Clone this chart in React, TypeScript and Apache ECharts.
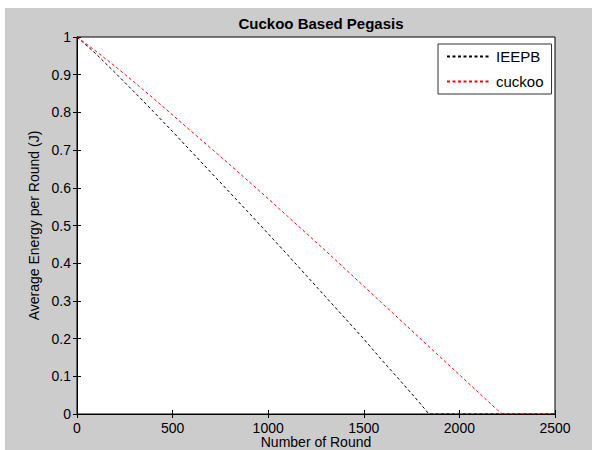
import React, { useEffect, useRef } from "react";
import * as echarts from "echarts";

const rounds = [0, 100, 200, 300, 400, 500, 600, 700, 800, 900, 1000, 1100, 1200, 1300, 1400, 1500, 1600, 1700, 1800, 1840, 2500];
const ieepb = [1.0, 0.955, 0.905, 0.854, 0.802, 0.749, 0.695, 0.641, 0.587, 0.533, 0.478, 0.423, 0.367, 0.311, 0.255, 0.199, 0.14, 0.083, 0.025, 0.0, 0.0];

const cuckooRounds = [0, 100, 200, 300, 400, 500, 600, 700, 800, 900, 1000, 1100, 1200, 1300, 1400, 1500, 1600, 1700, 1800, 1900, 2000, 2100, 2200, 2225, 2500];
const cuckoo = [1.0, 0.962, 0.922, 0.88, 0.837, 0.793, 0.749, 0.705, 0.661, 0.616, 0.571, 0.525, 0.479, 0.433, 0.386, 0.339, 0.292, 0.245, 0.198, 0.151, 0.104, 0.057, 0.01, 0.0, 0.0];

const seriesNames = ["IEEPB", "cuckoo"];
const titleText = "Cuckoo Based Pegasis";
const xName = "Number of Round";
const yName = "Average Energy per Round (J)";

export default function App() {
  const ref = useRef<HTMLDivElement>(null);
  useEffect(() => {
    if (!ref.current) return;
    const chart = echarts.init(ref.current, undefined, { renderer: "svg" });
    const font = "Liberation Sans, Arial, sans-serif";
    const tick = { inside: true, length: 4, lineStyle: { color: "#000", width: 1 } };
    chart.setOption({
      animation: false,
      backgroundColor: "#ffffff",
      textStyle: { fontFamily: font },
      graphic: [
        { type: "rect", z: -10, silent: true, shape: { x: 5, y: 8, width: 600, height: 460 }, style: { fill: "#cccccc" } },
      ],
      title: {
        text: titleText,
        left: 316,
        top: 11,
        textAlign: "center",
        textStyle: { fontFamily: font, fontSize: 15, fontWeight: "bold", color: "#000" },
      },
      legend: {
        data: seriesNames,
        orient: "vertical",
        left: 438,
        top: 44,
        itemWidth: 44,
        itemHeight: 14,
        itemGap: 10,
        padding: [5, 8, 5, 8],
        backgroundColor: "#ffffff",
        borderColor: "#333333",
        borderWidth: 1,
        itemStyle: { opacity: 0 },
        textStyle: { fontFamily: font, fontSize: 15, color: "#000" },
      },
      grid: {
        left: 77,
        top: 37,
        right: 37,
        bottom: 36,
        outerBoundsMode: "none",
        containLabel: false,
        show: true,
        backgroundColor: "#ffffff",
        borderColor: "#000",
        borderWidth: 1,
      },
      xAxis: [
        {
          type: "value",
          min: 0,
          max: 2500,
          interval: 500,
          name: xName,
          nameLocation: "middle",
          nameGap: 21,
          nameMoveOverlap: false,
          nameTextStyle: { fontFamily: font, fontSize: 14, lineHeight: 14, color: "#000" },
          axisLine: { lineStyle: { color: "#000", width: 1 } },
          axisTick: tick,
          axisLabel: { fontFamily: font, fontSize: 14, color: "#000", margin: 7, formatter: (v: number) => String(v) },
          splitLine: { show: false },
        },
        {
          type: "value",
          position: "top",
          min: 0,
          max: 2500,
          interval: 500,
          axisLine: { lineStyle: { color: "#000", width: 1 } },
          axisTick: tick,
          axisLabel: { show: false },
          splitLine: { show: false },
        },
      ],
      yAxis: [
        {
          type: "value",
          min: 0,
          max: 1,
          interval: 0.1,
          name: yName,
          nameLocation: "middle",
          nameGap: 36,
          nameMoveOverlap: false,
          nameTextStyle: { fontFamily: font, fontSize: 14, color: "#000" },
          axisLine: { lineStyle: { color: "#000", width: 1 } },
          axisTick: tick,
          axisLabel: { fontFamily: font, fontSize: 14, color: "#000", margin: 6 },
          splitLine: { show: false },
        },
        {
          type: "value",
          position: "right",
          min: 0,
          max: 1,
          interval: 0.1,
          axisLine: { lineStyle: { color: "#000", width: 1 } },
          axisTick: tick,
          axisLabel: { show: false },
          splitLine: { show: false },
        },
      ],
      series: [
        {
          name: seriesNames[0],
          type: "line",
          symbol: "none",
          data: rounds.map((r, i) => [r, ieepb[i]]),
          lineStyle: { color: "#000000", width: 1, type: [3, 2.5] },
          itemStyle: { color: "#000000" },
          z: 3,
        },
        {
          name: seriesNames[1],
          type: "line",
          symbol: "none",
          data: cuckooRounds.map((r, i) => [r, cuckoo[i]]),
          lineStyle: { color: "#ff0000", width: 1, type: [3, 2.5] },
          itemStyle: { color: "#ff0000" },
          z: 4,
        },
      ],
    });
    return () => chart.dispose();
  }, []);
  return <div ref={ref} style={{ position: "fixed", left: 0, top: 0, width: 592, height: 450 }} />;
}
